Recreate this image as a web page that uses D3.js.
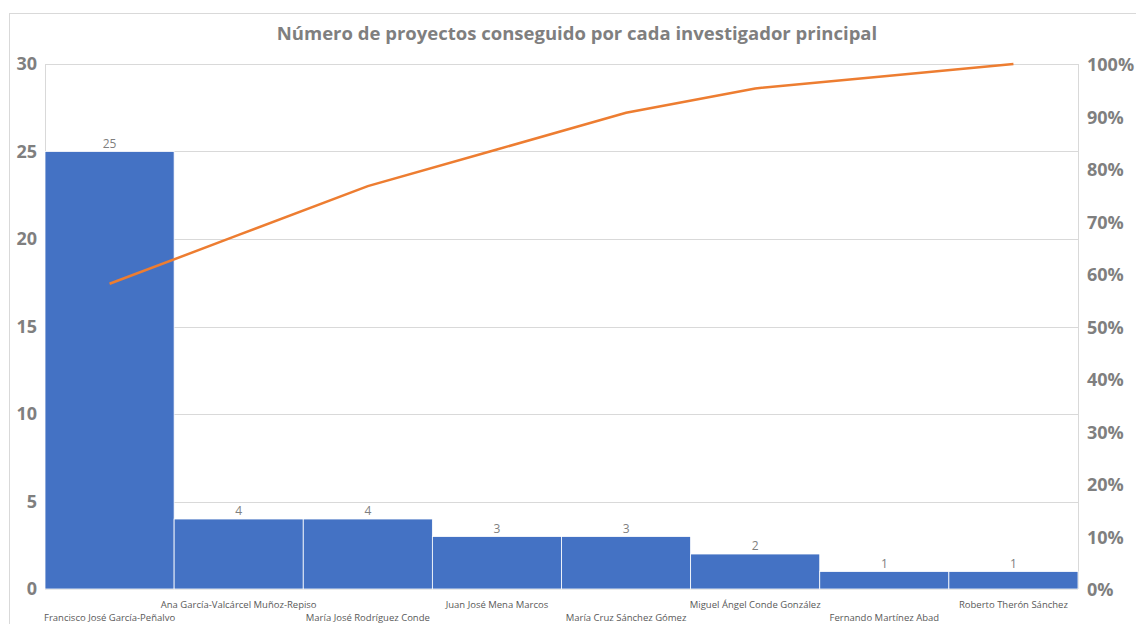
<!DOCTYPE html>
<html>
<head>
<meta charset="utf-8">
<script src="https://cdn.jsdelivr.net/npm/d3@7/dist/d3.min.js"></script>
<style>
  body { margin: 0; background: #fff; }
  text { font-family: "Open Sans", "Liberation Sans", sans-serif; }
</style>
</head>
<body>
<div id="chart"></div>
<script>
// data
const investigadores = [
  "Francisco José García-Peñalvo",
  "Ana García-Valcárcel Muñoz-Repiso",
  "María José Rodríguez Conde",
  "Juan José Mena Marcos",
  "María Cruz Sánchez Gómez",
  "Miguel Ángel Conde González",
  "Fernando Martínez Abad",
  "Roberto Therón Sánchez"
];
const proyectos = [25, 4, 4, 3, 3, 2, 1, 1];
const leftTicks = [0, 5, 10, 15, 20, 25, 30];
const rightTicks = [0, 0.1, 0.2, 0.3, 0.4, 0.5, 0.6, 0.7, 0.8, 0.9, 1];

const total = d3.sum(proyectos);
let acc = 0;
const acumulado = proyectos.map(v => { acc += v; return acc / total; });

const W = 1136, H = 624;
const m = {left: 45, right: 58, top: 64, bottom: 35};

const svg = d3.select("#chart").append("svg")
  .attr("width", W).attr("height", H);

// outer chart frame
svg.append("rect")
  .attr("x", 9.5).attr("y", 13.5)
  .attr("width", W + 20).attr("height", H + 20)
  .attr("fill", "none").attr("stroke", "#d9d9d9");

svg.append("text")
  .attr("x", 577).attr("y", 40)
  .attr("text-anchor", "middle")
  .attr("font-size", 18.5).attr("font-weight", "bold")
  .attr("fill", "#7f7f7f")
  .text("Número de proyectos conseguido por cada investigador principal");

const x = d3.scaleBand()
  .domain(investigadores)
  .range([m.left, W - m.right])
  .padding(0);
const y = d3.scaleLinear().domain([0, 30]).range([H - m.bottom, m.top]);
const y2 = d3.scaleLinear().domain([0, 1]).range([H - m.bottom, m.top]);

// gridlines
svg.append("g").selectAll("line")
  .data(leftTicks).enter().append("line")
  .attr("x1", m.left).attr("x2", W - m.right)
  .attr("y1", d => Math.round(y(d)) + 0.5).attr("y2", d => Math.round(y(d)) + 0.5)
  .attr("stroke", "#d9d9d9");

// plot frame sides
[m.left, W - m.right].forEach(px => {
  svg.append("line")
    .attr("x1", px + 0.5).attr("x2", px + 0.5)
    .attr("y1", m.top).attr("y2", H - m.bottom)
    .attr("stroke", "#d9d9d9");
});

// bars
svg.append("g").selectAll("rect")
  .data(proyectos).enter().append("rect")
  .attr("x", (d, i) => x(investigadores[i]))
  .attr("y", d => y(d))
  .attr("width", x.bandwidth())
  .attr("height", d => y(0) - y(d))
  .attr("fill", "#4472c4")
  .attr("stroke", "#fff").attr("stroke-width", 0.8);

// data labels
svg.append("g").selectAll("text")
  .data(proyectos).enter().append("text")
  .attr("x", (d, i) => x(investigadores[i]) + x.bandwidth() / 2)
  .attr("y", d => y(d) - 4)
  .attr("text-anchor", "middle")
  .attr("font-size", 12).attr("fill", "#7f7f7f")
  .text(d => d);

// pareto line
const line = d3.line()
  .x((d, i) => x(investigadores[i]) + x.bandwidth() / 2)
  .y(d => y2(d));
svg.append("path")
  .datum(acumulado)
  .attr("d", line)
  .attr("fill", "none")
  .attr("stroke", "#ed7d31")
  .attr("stroke-width", 2.5);

// left axis labels
svg.append("g").selectAll("text")
  .data(leftTicks).enter().append("text")
  .attr("x", 37).attr("y", d => y(d) + 6)
  .attr("text-anchor", "end")
  .attr("font-size", 18).attr("font-weight", "bold").attr("fill", "#7f7f7f")
  .text(d => d);

// right axis labels
svg.append("g").selectAll("text")
  .data(rightTicks).enter().append("text")
  .attr("x", 1087).attr("y", d => y2(d) + 7)
  .attr("font-size", 18).attr("font-weight", "bold").attr("fill", "#7f7f7f")
  .text(d => d3.format(".0%")(d));

// category labels, staggered
svg.append("g").selectAll("text")
  .data(investigadores).enter().append("text")
  .attr("x", d => x(d) + x.bandwidth() / 2)
  .attr("y", (d, i) => i % 2 === 0 ? 621 : 608)
  .attr("text-anchor", "middle")
  .attr("font-size", 9.5).attr("fill", "#595959")
  .text(d => d);
</script>
</body>
</html>
